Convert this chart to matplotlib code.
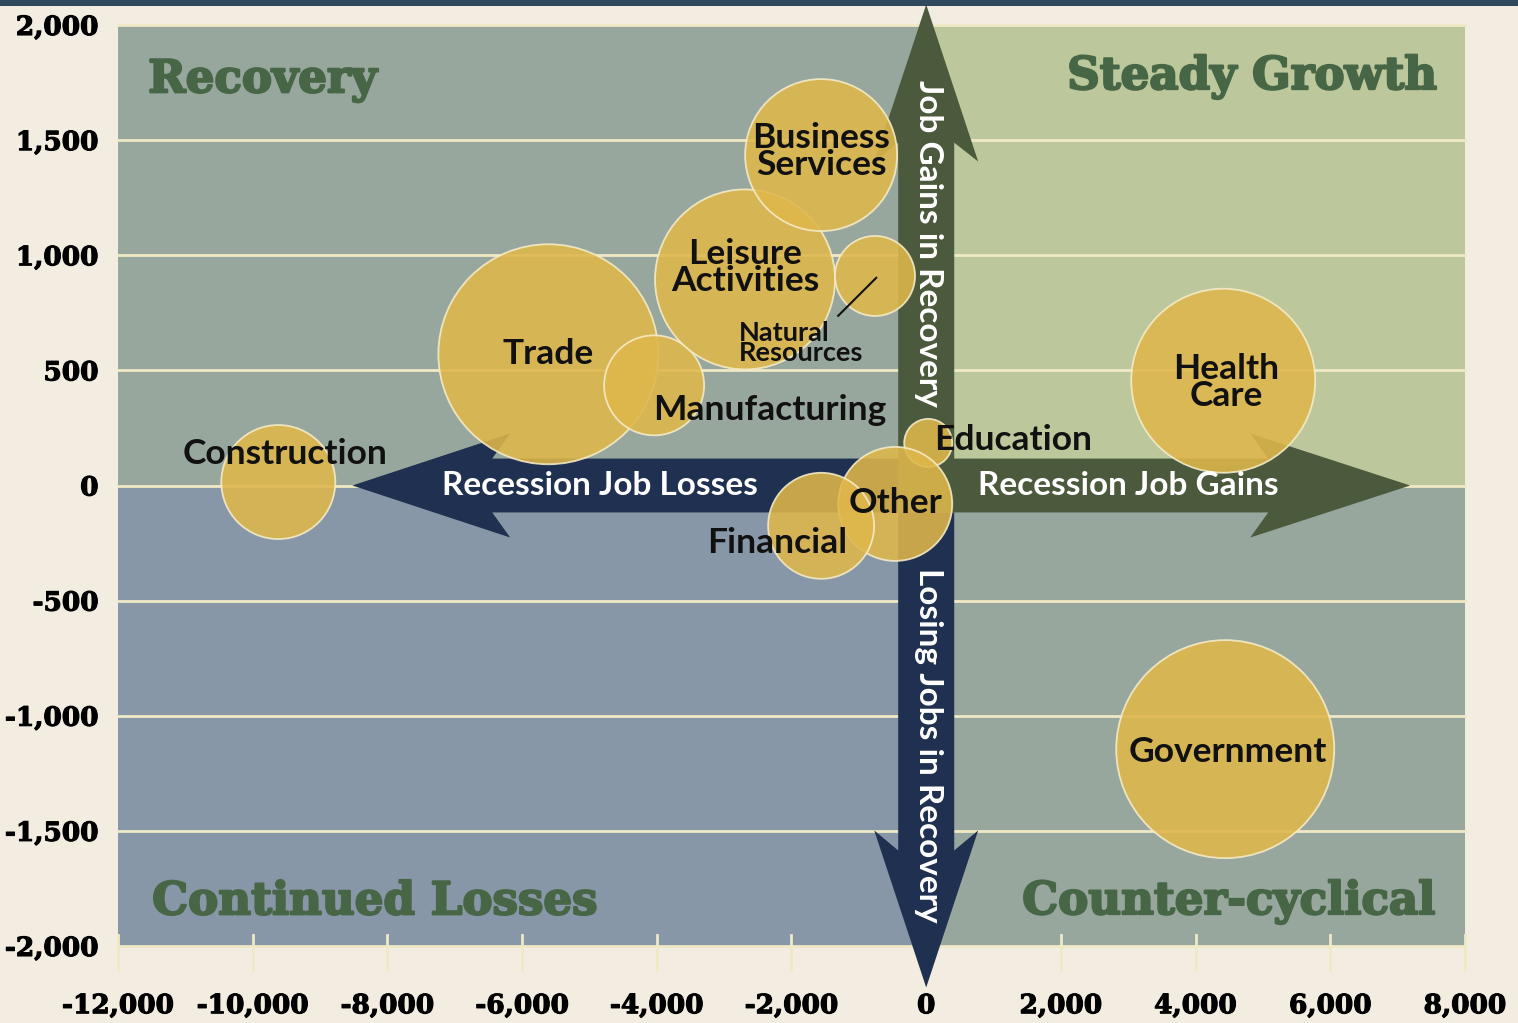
import matplotlib
matplotlib.use("Agg")
import matplotlib.pyplot as plt
from matplotlib.patches import Polygon, Rectangle
import matplotlib.transforms as mtransforms
import matplotlib.patheffects as pe

# ---------------- data ----------------
sectors = ["Construction", "Trade", "Manufacturing", "Leisure Activities",
           "Business Services", "Natural Resources", "Education", "Other",
           "Financial", "Health Care", "Government"]
recession_change = [-9620, -5610, -4040, -2690, -1560, -760, 30, -460, -1560, 4410, 4440]
recovery_change = [15, 570, 435, 895, 1435, 910, 185, -80, -175, 455, -1145]
bubble_size = [57, 110, 50, 90, 76, 40, 24, 57, 53, 92, 109]

x_ticks = [-12000, -10000, -8000, -6000, -4000, -2000, 0, 2000, 4000, 6000, 8000]
x_tick_labels = ["-12,000", "-10,000", "-8,000", "-6,000", "-4,000", "-2,000",
                 "0", "2,000", "4,000", "6,000", "8,000"]
y_ticks = [-2000, -1500, -1000, -500, 0, 500, 1000, 1500, 2000]
y_tick_labels = ["-2,000", "-1,500", "-1,000", "-500", "0", "500", "1,000", "1,500", "2,000"]

quadrant_names = ["Recovery", "Steady Growth", "Continued Losses", "Counter-cyclical"]
arrow_texts = ["Recession Job Losses", "Recession Job Gains",
               "Job Gains in Recovery", "Losing Jobs in Recovery"]

# ---------------- style ----------------
BG = "#f2ece1"
Q_TL = "#98a79e"
Q_TR = "#bcc79c"
Q_BL = "#8797a7"
Q_BR = "#98a79e"
NAVY = "#1f3050"
OLIVE = "#4b5a3c"
BUBBLE = "#dfb74b"
QTXT = "#476646"
GRID = "#efe9c6"

fig = plt.figure(figsize=(15.18, 10.23), dpi=100, facecolor=BG)
ax = fig.add_axes([118 / 1518, 1 - 946 / 1023, (1465 - 118) / 1518, (946 - 25) / 1023])
ax.set_xlim(-12000, 8000)
ax.set_ylim(-2000, 2000)
ax.set_facecolor(BG)

# top dark band
fig.patches.append(Rectangle((0, 1 - 6 / 1023), 1, 6 / 1023, transform=fig.transFigure,
                             facecolor="#2f4a5c", edgecolor="none", zorder=0))

# quadrants
ax.add_patch(Rectangle((-12000, 0), 12000, 2000, facecolor=Q_TL, edgecolor="none", zorder=0))
ax.add_patch(Rectangle((0, 0), 8000, 2000, facecolor=Q_TR, edgecolor="none", zorder=0))
ax.add_patch(Rectangle((-12000, -2000), 12000, 2000, facecolor=Q_BL, edgecolor="none", zorder=0))
ax.add_patch(Rectangle((0, -2000), 8000, 2000, facecolor=Q_BR, edgecolor="none", zorder=0))

# grid lines
for yv in y_ticks:
    ax.axhline(yv, color=GRID, lw=2, zorder=1, clip_on=False)

# x tick marks
trans = mtransforms.blended_transform_factory(ax.transData, ax.transAxes)
for xv in x_ticks:
    ax.plot([xv, xv], [-0.025, 0.012], transform=trans, color=GRID, lw=2,
            clip_on=False, zorder=1)

for s in ax.spines.values():
    s.set_visible(False)
ax.set_xticks(x_ticks)
ax.set_xticklabels(x_tick_labels)
ax.set_yticks(y_ticks)
ax.set_yticklabels(y_tick_labels)
ax.tick_params(length=0)
ax.tick_params(axis="x", pad=34)
ax.tick_params(axis="y", pad=14)
for lab in ax.get_xticklabels() + ax.get_yticklabels():
    lab.set_fontfamily("DejaVu Serif")
    lab.set_fontweight("bold")
    lab.set_fontsize(19)
    lab.set_color("black")
    lab.set_path_effects([pe.withStroke(linewidth=0.8, foreground="black")])

# ---------------- arrows ----------------
sh = 117      # half shaft (y units) for horizontal arrow
bw = 226      # barb half width
sv = 416      # half shaft (x units) for vertical arrow
bv = 772

left_arrow = [(-8520, 0), (-6177, bw), (-6444, sh), (0, sh), (0, -sh),
              (-6444, -sh), (-6177, -bw)]
right_arrow = [(7186, 0), (4811, bw), (5078, sh), (0, sh), (0, -sh),
               (5078, -sh), (4811, -bw)]
up_arrow = [(0, 2089), (bv, 1407), (sv, 1489), (sv, 0 - sh), (-sv, 0 - sh),
            (-sv, 1489), (-bv, 1407)]
down_arrow = [(0, -2180), (bv, -1498), (sv, -1585), (sv, -sh), (-sv, -sh),
              (-sv, -1585), (-bv, -1498)]
ax.add_patch(Polygon(left_arrow, closed=True, facecolor=NAVY, edgecolor="none", zorder=2, clip_on=False))
ax.add_patch(Polygon(down_arrow, closed=True, facecolor=NAVY, edgecolor="none", zorder=2, clip_on=False))
ax.add_patch(Polygon(up_arrow, closed=True, facecolor=OLIVE, edgecolor="none", zorder=2.1, clip_on=False))
ax.add_patch(Polygon(right_arrow, closed=True, facecolor=OLIVE, edgecolor="none", zorder=2.1, clip_on=False))

# ---------------- bubbles ----------------
sizes = [(1.44 * r) ** 2 for r in bubble_size]
ax.scatter(recession_change, recovery_change, s=sizes, color=BUBBLE, alpha=0.88,
           edgecolors="#f6ecc8", linewidths=1.3, zorder=3)

# ---------------- labels ----------------
LF = "Lato"
lab_kw = dict(fontfamily=LF, fontweight="bold", color="#111111", zorder=5)
FS = 25.5
ax.text(-1559, 1450, "Business\nServices", ha="center", va="center", fontsize=FS,
        linespacing=0.8, **lab_kw)
ax.text(-2687, 946, "Leisure\nActivities", ha="center", va="center", fontsize=FS,
        linespacing=0.8, **lab_kw)
ax.text(-5612, 572, "Trade", ha="center", va="center", fontsize=FS, **lab_kw)
ax.text(-2316, 328, "Manufacturing", ha="center", va="center", fontsize=FS, **lab_kw)
ax.text(-2777, 620, "Natural\nResources", ha="left", va="center", fontsize=19.5,
        linespacing=0.8, **lab_kw)
ax.plot([-1307, -742], [737, 902], color="#111111", lw=1.5, zorder=5)
ax.text(-9518, 137, "Construction", ha="center", va="center", fontsize=FS, **lab_kw)
ax.text(1292, 198, "Education", ha="center", va="center", fontsize=FS, **lab_kw)
ax.text(-460, -76, "Other", ha="center", va="center", fontsize=FS, **lab_kw)
ax.text(-2212, -250, "Financial", ha="center", va="center", fontsize=FS, **lab_kw)
ax.text(4454, 446, "Health\nCare", ha="center", va="center", fontsize=FS,
        linespacing=0.8, **lab_kw)
ax.text(4484, -1159, "Government", ha="center", va="center", fontsize=FS, **lab_kw)

# arrow texts
at_kw = dict(fontfamily=LF, fontweight="bold", color="white", fontsize=24, zorder=6,
             ha="center", va="center")
ax.text(-4840, 0, arrow_texts[0], **at_kw)
ax.text(3000, 0, arrow_texts[1], **at_kw)
ax.text(30, 1053, arrow_texts[2], rotation=-90, **at_kw)
ax.text(30, -1128, arrow_texts[3], rotation=-90, **at_kw)

# quadrant titles
q_kw = dict(fontfamily="DejaVu Serif", fontweight="bold", color=QTXT, fontsize=32.5, zorder=4,
            path_effects=[pe.withStroke(linewidth=1.6, foreground=QTXT)])
ax.text(-11552, 1760, quadrant_names[0], ha="left", va="center", **q_kw)
ax.text(7587, 1775, quadrant_names[1], ha="right", va="center", **q_kw)
ax.text(-11492, -1808, quadrant_names[2], ha="left", va="center", **q_kw)
ax.text(7558, -1808, quadrant_names[3], ha="right", va="center", **q_kw)

fig.savefig("out.png", dpi=100, facecolor=BG)
